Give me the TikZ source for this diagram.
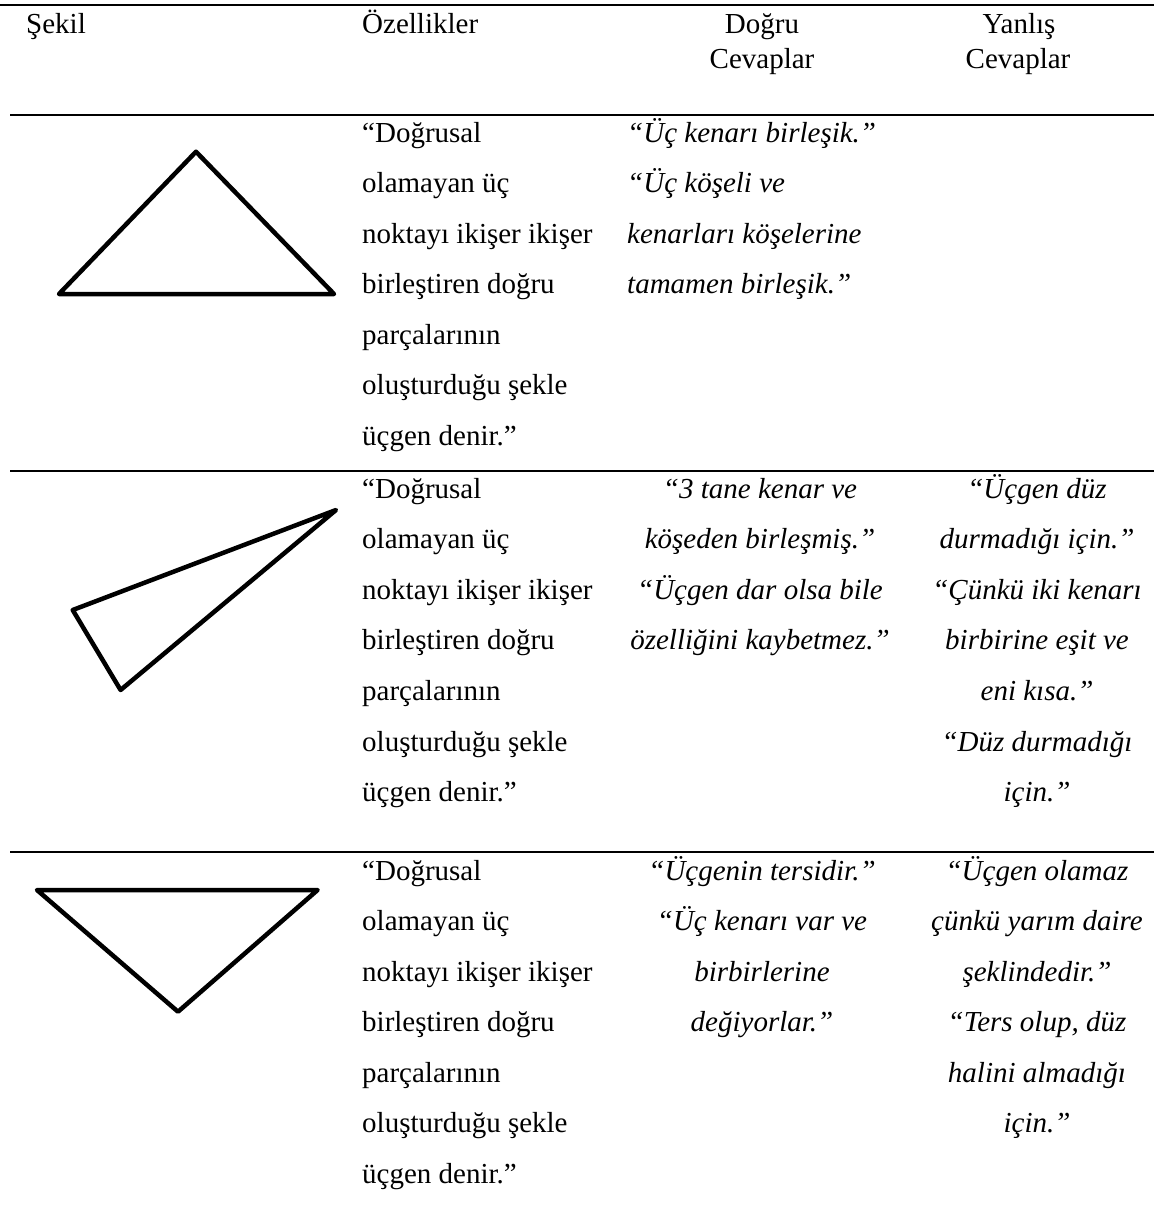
\documentclass[tikz,border=0pt]{standalone}
\usepackage{fontspec}
\setmainfont{Liberation Serif}
\begin{document}
\begin{tikzpicture}[x=1pt,y=-1pt,
  txt/.style={inner sep=0pt, font=\fontsize{29}{35}\selectfont},
  ans/.style={inner sep=0pt, font=\fontsize{29}{35}\selectfont\itshape},
  tabrule/.style={line width=2pt},
  figline/.style={line width=4.5pt, line join=round}]
\useasboundingbox (0,0) rectangle (1154,1205);
\fill[white] (0,0) rectangle (1154,1205);

% table rules
\draw[line width=2.7pt] (0,5) -- (1154,5);
\draw[tabrule] (10,115) -- (1154,115);
\draw[tabrule] (10,471) -- (1154,471);
\draw[tabrule] (10,852) -- (1154,852);

% header
\node[txt, anchor=base west] (h1) at (26,33) {Şekil};
\node[txt, anchor=base west] (h2) at (362,33) {Özellikler};
\node[txt, anchor=base] (h3a) at (762,33) {Doğru};
\node[txt, anchor=base] (h3b) at (762,68) {Cevaplar};
\node[txt, anchor=base] (h4a) at (1019,33) {Yanlış};
\node[txt, anchor=base] (h4b) at (1018,68) {Cevaplar};

% triangles
\draw[figline] (196,151.7) -- (59,294) -- (334,294) -- cycle;
\draw[figline] (336,510) -- (72.7,610) -- (120.6,690) -- cycle;
\draw[figline] (37,890) -- (317.6,890) -- (178,1011.7) -- cycle;

% property column
\def\proplist{“Doğrusal, olamayan üç, noktayı ikişer ikişer, birleştiren doğru, parçalarının, oluşturduğu şekle, üçgen denir.”}
\foreach \s [count=\i from 0] in \proplist
  \node[txt, anchor=base west] (pa\i) at (362,{142+50.5*\i}) {\s};
\foreach \s [count=\i from 0] in \proplist
  \node[txt, anchor=base west] (pb\i) at (362,{498+50.6*\i}) {\s};
\foreach \s [count=\i from 0] in \proplist
  \node[txt, anchor=base west] (pc\i) at (362,{880+50.5*\i}) {\s};

% row 1 correct answers
\foreach \s [count=\i from 0] in {“Üç kenarı birleşik.”, “Üç köşeli ve, kenarları köşelerine, tamamen birleşik.”}
  \node[ans, anchor=base west] (da\i) at (627,{142+50.5*\i}) {\s};

% row 2 answers
\foreach \s [count=\i from 0] in {“3 tane kenar ve, köşeden birleşmiş.”, “Üçgen dar olsa bile, özelliğini kaybetmez.”}
  \node[ans, anchor=base] (db\i) at (760,{498+50.6*\i}) {\s};
\foreach \s [count=\i from 0] in {“Üçgen düz, durmadığı için.”, “Çünkü iki kenarı, birbirine eşit ve, eni kısa.”, “Düz durmadığı, için.”}
  \node[ans, anchor=base] (wb\i) at (1037,{498+50.6*\i}) {\s};

% row 3 answers
\foreach \s [count=\i from 0] in {“Üçgenin tersidir.”, “Üç kenarı var ve, birbirlerine, değiyorlar.”}
  \node[ans, anchor=base] (dc\i) at (762,{880+50.5*\i}) {\s};
\foreach \s [count=\i from 0] in {“Üçgen olamaz, çünkü yarım daire, şeklindedir.”, {“Ters olup, düz}, halini almadığı, için.”}
  \node[ans, anchor=base] (wc\i) at (1037,{880+50.5*\i}) {\s};
\end{tikzpicture}
\end{document}
